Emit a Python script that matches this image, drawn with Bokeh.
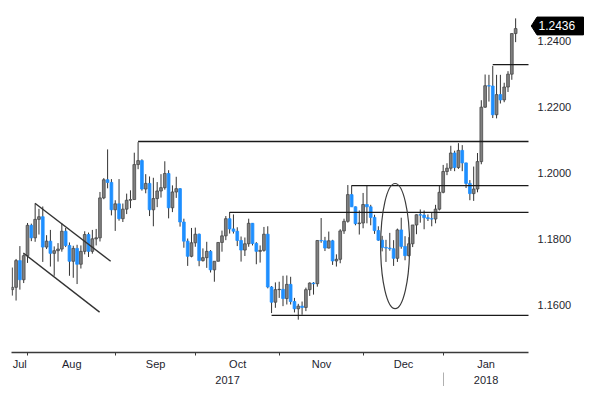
import pandas as pd
from bokeh.plotting import figure
from bokeh.models import ColumnDataSource, Range1d, LinearAxis, FixedTicker
from bokeh.core.properties import value
from bokeh.embed import file_html
from bokeh.resources import INLINE

# ---------------- data (EUR/USD daily) ----------------
dates = pd.bdate_range("2017-07-25", "2018-01-25")

opens = [1.1645, 1.1652, 1.1733, 1.1675, 1.1748, 1.1840, 1.1802, 1.1858, 1.1866, 1.1774,
         1.1792, 1.1755, 1.1763, 1.1768, 1.1822, 1.1779, 1.1731, 1.1770, 1.1722, 1.1761,
         1.1812, 1.1761, 1.1799, 1.1802, 1.1923, 1.1978, 1.1970, 1.1887, 1.1905, 1.1860,
         1.1889, 1.1916, 1.1918, 1.2024, 1.2036, 1.1950, 1.1967, 1.1887, 1.1921, 1.1944,
         1.1954, 1.1997, 1.1893, 1.1941, 1.1951, 1.1850, 1.1792, 1.1746, 1.1787, 1.1813,
         1.1733, 1.1742, 1.1761, 1.1705, 1.1731, 1.1788, 1.1808, 1.1860, 1.1829, 1.1822,
         1.1794, 1.1765, 1.1784, 1.1846, 1.1785, 1.1761, 1.1764, 1.1813, 1.1653, 1.1607,
         1.1645, 1.1646, 1.1618, 1.1661, 1.1609, 1.1587, 1.1595, 1.1591, 1.1645, 1.1665,
         1.1663, 1.1794, 1.1793, 1.1771, 1.1793, 1.1732, 1.1737, 1.1823, 1.1852, 1.1933,
         1.1896, 1.1845, 1.1847, 1.1903, 1.1896, 1.1864, 1.1824, 1.1795, 1.1773, 1.1771,
         1.1769, 1.1740, 1.1826, 1.1776, 1.1748, 1.1784, 1.1841, 1.1872, 1.1871, 1.1863,
         1.1860, 1.1859, 1.1889, 1.1940, 1.2003, 1.2013, 1.2059, 1.2015, 1.2067, 1.2029,
         1.1967, 1.1936, 1.1950, 1.2033, 1.2198, 1.2263, 1.2262, 1.2175, 1.2236, 1.2220,
         1.2259, 1.2298, 1.2421]
highs = [1.1712, 1.1738, 1.1777, 1.1752, 1.1847, 1.1845, 1.1905, 1.1890, 1.1897, 1.1810,
         1.1826, 1.1776, 1.1786, 1.1846, 1.1832, 1.1788, 1.1778, 1.1781, 1.1779, 1.1822,
         1.1818, 1.1826, 1.1829, 1.1941, 1.1983, 1.2070, 1.1980, 1.1916, 1.1980, 1.1906,
         1.1936, 1.1946, 1.2060, 1.2092, 1.2040, 1.1995, 1.1988, 1.1984, 1.1971, 1.1995,
         1.2034, 1.2007, 1.1961, 1.1987, 1.1953, 1.1860, 1.1800, 1.1832, 1.1833, 1.1815,
         1.1770, 1.1790, 1.1765, 1.1730, 1.1788, 1.1824, 1.1868, 1.1880, 1.1873, 1.1834,
         1.1806, 1.1803, 1.1860, 1.1847, 1.1789, 1.1779, 1.1835, 1.1837, 1.1656, 1.1667,
         1.1669, 1.1687, 1.1688, 1.1684, 1.1620, 1.1602, 1.1609, 1.1651, 1.1667, 1.1668,
         1.1794, 1.1862, 1.1805, 1.1821, 1.1796, 1.1752, 1.1828, 1.1860, 1.1962, 1.1961,
         1.1897, 1.1885, 1.1938, 1.1960, 1.1902, 1.1872, 1.1837, 1.1808, 1.1796, 1.1817,
         1.1795, 1.1830, 1.1863, 1.1807, 1.1804, 1.1838, 1.1873, 1.1888, 1.1885, 1.1873,
         1.1880, 1.1902, 1.1959, 1.2023, 1.2028, 1.2081, 1.2066, 1.2089, 1.2083, 1.2030,
         1.1977, 1.2018, 1.2059, 1.2219, 1.2297, 1.2296, 1.2323, 1.2296, 1.2296, 1.2272,
         1.2307, 1.2421, 1.2467]
lows = [1.1627, 1.1612, 1.1645, 1.1665, 1.1726, 1.1792, 1.1790, 1.1812, 1.1729, 1.1768,
        1.1715, 1.1687, 1.1730, 1.1760, 1.1774, 1.1687, 1.1681, 1.1662, 1.1709, 1.1752,
        1.1744, 1.1754, 1.1779, 1.1791, 1.1919, 1.1952, 1.1870, 1.1823, 1.1854, 1.1850,
        1.1874, 1.1892, 1.1918, 1.2010, 1.1945, 1.1937, 1.1868, 1.1837, 1.1895, 1.1924,
        1.1948, 1.1861, 1.1880, 1.1923, 1.1836, 1.1772, 1.1717, 1.1743, 1.1775, 1.1716,
        1.1730, 1.1711, 1.1697, 1.1669, 1.1731, 1.1760, 1.1795, 1.1815, 1.1815, 1.1777,
        1.1730, 1.1747, 1.1775, 1.1779, 1.1722, 1.1727, 1.1760, 1.1649, 1.1574, 1.1590,
        1.1620, 1.1595, 1.1600, 1.1600, 1.1576, 1.1554, 1.1569, 1.1580, 1.1626, 1.1630,
        1.1654, 1.1787, 1.1762, 1.1770, 1.1720, 1.1715, 1.1725, 1.1814, 1.1848, 1.1896,
        1.1840, 1.1812, 1.1831, 1.1846, 1.1840, 1.1814, 1.1793, 1.1761, 1.1729, 1.1763,
        1.1717, 1.1729, 1.1769, 1.1734, 1.1746, 1.1774, 1.1813, 1.1848, 1.1828, 1.1853,
        1.1837, 1.1846, 1.1885, 1.1937, 1.1992, 1.2005, 1.2004, 1.2011, 1.2004, 1.1953,
        1.1916, 1.1914, 1.1940, 1.2025, 1.2196, 1.2215, 1.2165, 1.2164, 1.2209, 1.2213,
        1.2244, 1.2281, 1.2395]
closes = [1.1652, 1.1733, 1.1675, 1.1748, 1.1840, 1.1802, 1.1858, 1.1866, 1.1774, 1.1792,
          1.1755, 1.1763, 1.1768, 1.1822, 1.1779, 1.1731, 1.1770, 1.1722, 1.1761, 1.1812,
          1.1761, 1.1799, 1.1802, 1.1923, 1.1978, 1.1970, 1.1887, 1.1905, 1.1860, 1.1889,
          1.1916, 1.1918, 1.2024, 1.2036, 1.1950, 1.1967, 1.1887, 1.1921, 1.1944, 1.1954,
          1.1997, 1.1893, 1.1941, 1.1951, 1.1850, 1.1792, 1.1746, 1.1787, 1.1813, 1.1733,
          1.1742, 1.1761, 1.1705, 1.1731, 1.1788, 1.1808, 1.1860, 1.1829, 1.1822, 1.1794,
          1.1765, 1.1784, 1.1846, 1.1785, 1.1761, 1.1764, 1.1813, 1.1653, 1.1607, 1.1645,
          1.1646, 1.1618, 1.1661, 1.1609, 1.1587, 1.1595, 1.1591, 1.1645, 1.1665, 1.1663,
          1.1794, 1.1793, 1.1771, 1.1793, 1.1732, 1.1737, 1.1823, 1.1852, 1.1933, 1.1896,
          1.1845, 1.1847, 1.1903, 1.1896, 1.1864, 1.1824, 1.1795, 1.1773, 1.1771, 1.1769,
          1.1740, 1.1826, 1.1776, 1.1748, 1.1784, 1.1841, 1.1872, 1.1871, 1.1863, 1.1860,
          1.1859, 1.1889, 1.1940, 1.2003, 1.2013, 1.2059, 1.2015, 1.2067, 1.2029, 1.1967,
          1.1936, 1.1950, 1.2033, 1.2198, 1.2263, 1.2262, 1.2175, 1.2236, 1.2220, 1.2259,
          1.2298, 1.2421, 1.2436]

y_ticks = [1.16, 1.18, 1.20, 1.22, 1.24]
y_tick_labels = ["1.1600", "1.1800", "1.2000", "1.2200", "1.2400"]
last_price_text = "1.2436"

# analyst drawings
level_dates = ["2017-09-08", "2017-10-12", "2017-10-27", "2017-11-27", "2018-01-17"]
level_values = [1.2094, 1.1879, 1.1567, 1.1960, 1.2327]
channel_x0 = [5.95, 2.9]
channel_y0 = [1.1907, 1.1756]
channel_x1 = [25.8, 22.9]
channel_y1 = [1.1731, 1.1577]
ellipse_x = [100.4]
ellipse_y = [1.1777]
ellipse_w = [7.6]
ellipse_h = [0.0380]

# ---------------- derived ----------------
n = len(dates)
idx = list(range(n))
up = [c >= o for o, c in zip(opens, closes)]
GRAY, BLUE = "#808080", "#1e8fff"
src = ColumnDataSource(dict(
    x=idx, open=opens, close=closes, high=highs, low=lows,
    top=[max(o, c) for o, c in zip(opens, closes)],
    bottom=[min(o, c) for o, c in zip(opens, closes)],
    fill=[GRAY if u else BLUE for u in up],
    line=["#474747" if u else BLUE for u in up],
))

S = 3.8134                      # px per trading day
X0 = -0.2
AXIS_END = X0 + 517 / S         # where the time axis ends
X1 = X0 + 581 / S               # frame extends under the price labels
p = figure(frame_width=581, frame_height=342,
           x_range=Range1d(X0, X1), y_range=Range1d(1.145455, 1.249091),
           output_backend="svg", toolbar_location=None,
           x_axis_location=None, y_axis_location=None,
           min_border_left=11, min_border_right=0, min_border_top=10, min_border_bottom=0)
p.grid.visible = False
p.outline_line_color = None
p.background_fill_color = "white"

FONT = "Liberation Sans"
TXT = "#1e1e2e"

# month axis
date_list = list(dates)
month_first = [i for i in range(1, n) if date_list[i].month != date_list[i - 1].month]
bounds = [i - 0.9 for i in month_first]
edges = [X0] + bounds + [AXIS_END]
mid = [round((a + b) / 2, 3) for a, b in zip(edges[:-1], edges[1:])]
month_names = [date_list[0].strftime("%b")] + [date_list[i].strftime("%b") for i in month_first]
ax_m = LinearAxis(ticker=FixedTicker(ticks=mid, minor_ticks=bounds), bounds=(X0, AXIS_END),
                  major_label_overrides={m: t for m, t in zip(mid, month_names)},
                  axis_line_color="#3a3a3a", axis_line_width=1.5,
                  major_tick_line_color=None, major_tick_out=0, major_tick_in=0,
                  minor_tick_line_color="#3a3a3a", minor_tick_out=3, minor_tick_in=0,
                  major_label_standoff=2, major_label_text_font=FONT,
                  major_label_text_font_size="11px", major_label_text_color=TXT)
p.add_layout(ax_m, "below")

# year axis
year_first = [i for i in range(1, n) if date_list[i].year != date_list[i - 1].year]
ybounds = [i - 0.9 for i in year_first]
yedges = [X0] + ybounds + [AXIS_END]
ymid = [round((a + b) / 2, 3) for a, b in zip(yedges[:-1], yedges[1:])]
year_names = [str(date_list[0].year)] + [str(date_list[i].year) for i in year_first]
ax_y = LinearAxis(ticker=FixedTicker(ticks=ymid, minor_ticks=ybounds), bounds=(X0, AXIS_END),
                  major_label_overrides={m: t for m, t in zip(ymid, year_names)},
                  axis_line_color=None,
                  major_tick_line_color=None, major_tick_out=0, major_tick_in=0,
                  minor_tick_line_color="#b0b0b0", minor_tick_out=16, minor_tick_in=0,
                  major_label_standoff=-13, major_label_text_font=FONT,
                  major_label_text_font_size="11px", major_label_text_color=TXT)
p.add_layout(ax_y, "below")

# price labels on the right of the time axis
p.text(x=[AXIS_END + 2.37] * len(y_ticks), y=y_ticks, text=y_tick_labels,
       text_font=value(FONT), text_font_size="11px", text_color=TXT,
       text_baseline="middle", text_align="left")

# candles
p.segment(x0="x", y0="high", x1="x", y1="low", source=src, line_color="#333333", line_width=1)
p.vbar(x="x", width=0.72, top="top", bottom="bottom", source=src,
       fill_color="fill", line_color="line", line_width=0.8)

# horizontal levels
lvl_x = [date_list.index(pd.Timestamp(d)) for d in level_dates]
p.segment(x0=lvl_x, y0=level_values, x1=[AXIS_END] * len(lvl_x), y1=level_values,
          line_color="#1a1a1a", line_width=1.3)
# channel
p.segment(x0=channel_x0, y0=channel_y0, x1=channel_x1, y1=channel_y1,
          line_color="#333333", line_width=1.4)
# ellipse
p.ellipse(x=ellipse_x, y=ellipse_y, width=ellipse_w, height=ellipse_h,
          fill_color=None, line_color="#3c3c3c", line_width=1.2)

# last price tag
lx = idx[-1]
ly = closes[-1] + 0.0008
hh = 0.0027
tip = lx + 4.1
xs = [tip, tip + 1.5, lx + 17.8, lx + 17.8, tip + 1.5]
ys = [ly, ly + hh, ly + hh, ly - hh, ly - hh]
p.patch(x=xs, y=ys, fill_color="black", line_color="black")
p.text(x=[tip + 1.9], y=[ly], text=[last_price_text], text_color="white",
       text_font=value(FONT), text_font_size="12px", text_baseline="middle",
       text_align="left")

open("out.html", "w").write(file_html(p, INLINE))
